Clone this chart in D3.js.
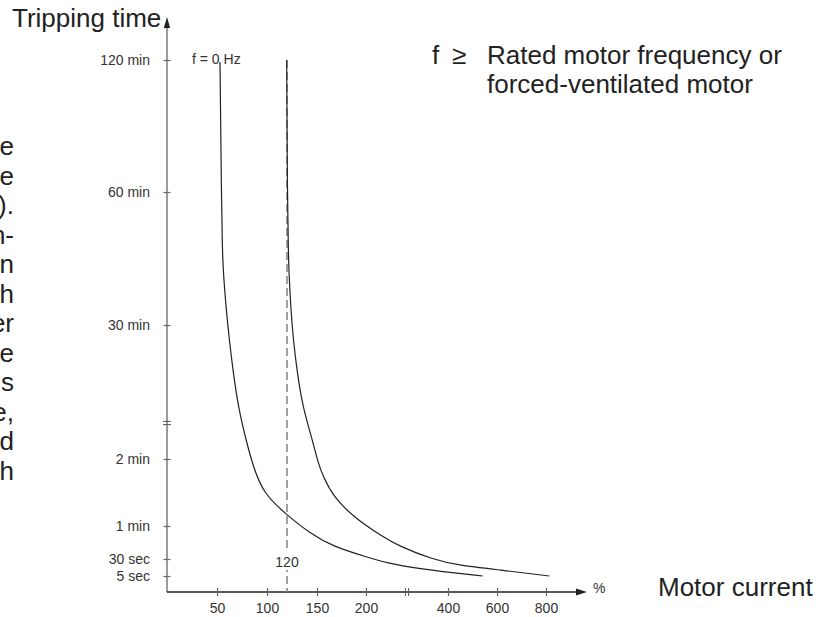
<!DOCTYPE html>
<html>
<head>
<meta charset="utf-8">
<script src="https://cdn.jsdelivr.net/npm/d3@7"></script>
<style>
  html, body { margin: 0; padding: 0; background: #fff; }
  svg { display: block; font-family: "Liberation Sans", Arial, Helvetica, sans-serif; }
</style>
</head>
<body>
<div id="chart"></div>
<script>
// tick values on the two (broken) axes
const xTickValues = [50, 100, 150, 200, 400, 600, 800];
const yTickValues = [5, 30, 60, 120, 1800, 3600, 7200]; // seconds
const yTickLabels = ['5 sec', '30 sec', '1 min', '2 min', '30 min', '60 min', '120 min'];

// tripping curves: [motor current %, tripping time s]
const curveStandstill = [
  [53, 7145], [53.6, 5645], [54.3, 3845], [55.3, 2815], [56.5, 2477], [59, 2044],
  [62.3, 1612], [66.3, 1198], [71.3, 772], [79, 358], [86.3, 113], [96.3, 89.3],
  [119.7, 69.9], [143, 53.4], [166.6, 41.2], [201.7, 31.8], [250.5, 24.1],
  [323.7, 16.3], [408.2, 10.1], [541.6, 5]
];
const curveRated = [
  [119.7, 7200], [120, 5645], [120.3, 3845], [121.3, 2815], [122, 2504], [123.7, 2044],
  [126.3, 1612], [130.3, 1198], [135.7, 772], [146.3, 317], [151.3, 116], [156.4, 104.2],
  [166.6, 86.3], [187, 68.3], [234.1, 51.8], [282.9, 41.2], [364.1, 29.3],
  [435.5, 21.2], [612.2, 13.8], [813.4, 5]
];
const markerCurrent = 120;

// right-hand edge of a paragraph cut off by the page
const sideFragments = ['e', 'e', ').', 'n-', 'n', 'h', 'er', 'e', 's', 'e,', 'd', 'h'];

const width = 831, height = 617;
const svg = d3.select('#chart').append('svg')
  .attr('width', width)
  .attr('height', height);

// piecewise scales (the axes are broken between 200/400 % and 2/30 min)
const x = d3.scaleLinear()
  .domain([0, 50, 100, 150, 200, 400, 600, 800])
  .range([167, 217, 267, 317, 366, 448, 497, 546]);
const y = d3.scaleLinear()
  .domain([0, 5, 30, 60, 120, 1800, 3600, 7200])
  .range([592, 576, 559, 526, 459, 325, 192, 60]);

const x0 = x(0), y0 = y(0);
const xBreak = (x(200) + x(400)) / 2;
const yBreak = 423;

// --- axes lines and arrows
svg.append('line')
  .attr('x1', x0).attr('x2', x0)
  .attr('y1', y0).attr('y2', 24)
  .attr('stroke', '#7a7a7a').attr('stroke-width', 1.5);
svg.append('path')
  .attr('d', `M${x0},17 L${x0 - 3.2},28 L${x0 + 3.2},28 Z`)
  .attr('fill', '#222');

svg.append('line')
  .attr('x1', x0).attr('x2', 580)
  .attr('y1', y0).attr('y2', y0)
  .attr('stroke', '#222').attr('stroke-width', 1.3);
svg.append('path')
  .attr('d', `M587,${y0} L576,${y0 - 3.5} L576,${y0 + 3.5} Z`)
  .attr('fill', '#222');

// y ticks
const yAxis = svg.append('g')
  .attr('transform', `translate(${x0},0)`)
  .call(d3.axisLeft(y)
    .tickValues(yTickValues)
    .tickFormat((d, i) => yTickLabels[i])
    .tickSize(4)
    .tickPadding(13));
yAxis.select('.domain').remove();
yAxis.selectAll('.tick line')
  .attr('x1', -3.5).attr('x2', 3.5)
  .attr('stroke', '#666').attr('stroke-width', 1.2);
yAxis.selectAll('.tick text')
  .attr('fill', '#333')
  .style('font-size', '14px')
  .style('font-family', '"Liberation Sans", Arial, sans-serif');

// x ticks
const xAxis = svg.append('g')
  .attr('transform', `translate(0,${y0})`)
  .call(d3.axisBottom(x)
    .tickValues(xTickValues)
    .tickFormat(d3.format('d'))
    .tickSize(4)
    .tickPadding(7));
xAxis.select('.domain').remove();
xAxis.selectAll('.tick line')
  .attr('y1', -4).attr('y2', 4)
  .attr('stroke', '#666').attr('stroke-width', 1.2);
xAxis.selectAll('.tick text')
  .attr('fill', '#333')
  .style('font-size', '14px')
  .style('font-family', '"Liberation Sans", Arial, sans-serif');

// axis break marks
[yBreak - 1.6, yBreak + 1.6].forEach(yy => {
  svg.append('line')
    .attr('x1', x0 - 4).attr('x2', x0 + 4)
    .attr('y1', yy).attr('y2', yy)
    .attr('stroke', '#555').attr('stroke-width', 1);
});
[xBreak - 1.6, xBreak + 1.6].forEach(xx => {
  svg.append('line')
    .attr('x1', xx).attr('x2', xx)
    .attr('y1', y0 - 4).attr('y2', y0 + 4)
    .attr('stroke', '#555').attr('stroke-width', 1);
});

// dashed marker at 120 %
svg.append('line')
  .attr('x1', x(markerCurrent)).attr('x2', x(markerCurrent))
  .attr('y1', y(7200)).attr('y2', y0)
  .attr('stroke', '#808080')
  .attr('stroke-width', 1.5)
  .attr('stroke-dasharray', '8,4');
svg.append('rect')
  .attr('x', x(markerCurrent) - 14).attr('y', 551)
  .attr('width', 28).attr('height', 19)
  .attr('fill', '#fff');
svg.append('text')
  .attr('x', x(markerCurrent)).attr('y', 567)
  .attr('text-anchor', 'middle')
  .attr('fill', '#333')
  .style('font-size', '14px')
  .text(markerCurrent);

// curves
const line = d3.line()
  .x(d => x(d[0]))
  .y(d => y(d[1]))
  .curve(d3.curveBasis);

[curveStandstill, curveRated].forEach(c => {
  svg.append('path')
    .datum(c)
    .attr('d', line)
    .attr('fill', 'none')
    .attr('stroke', '#222')
    .attr('stroke-width', 1.2);
});

svg.append('text')
  .attr('x', 192).attr('y', 64)
  .attr('fill', '#333')
  .style('font-size', '14px')
  .text('f = 0 Hz');

// titles and notes
svg.append('text')
  .attr('x', 12).attr('y', 27)
  .attr('fill', '#222')
  .style('font-size', '26px')
  .text('Tripping time');

svg.append('text')
  .attr('x', 658).attr('y', 596)
  .attr('fill', '#222')
  .style('font-size', '26px')
  .text('Motor current');

svg.append('text')
  .attr('x', 593).attr('y', 593)
  .attr('fill', '#333')
  .style('font-size', '14px')
  .text('%');

const note = svg.append('text')
  .attr('fill', '#222')
  .style('font-size', '26px');
note.append('tspan').attr('x', 432).attr('y', 64).text('f');
note.append('tspan').attr('x', 452).attr('y', 64).text('\u2265');
note.append('tspan').attr('x', 487).attr('y', 64).text('Rated motor frequency or');
note.append('tspan').attr('x', 487).attr('y', 93).text('forced-ventilated motor');

svg.append('g')
  .selectAll('text')
  .data(sideFragments)
  .enter()
  .append('text')
  .attr('x', 14)
  .attr('y', (d, i) => 155 + i * 29.5)
  .attr('text-anchor', 'end')
  .attr('fill', '#222')
  .style('font-size', '26px')
  .text(d => d);
</script>
</body>
</html>
